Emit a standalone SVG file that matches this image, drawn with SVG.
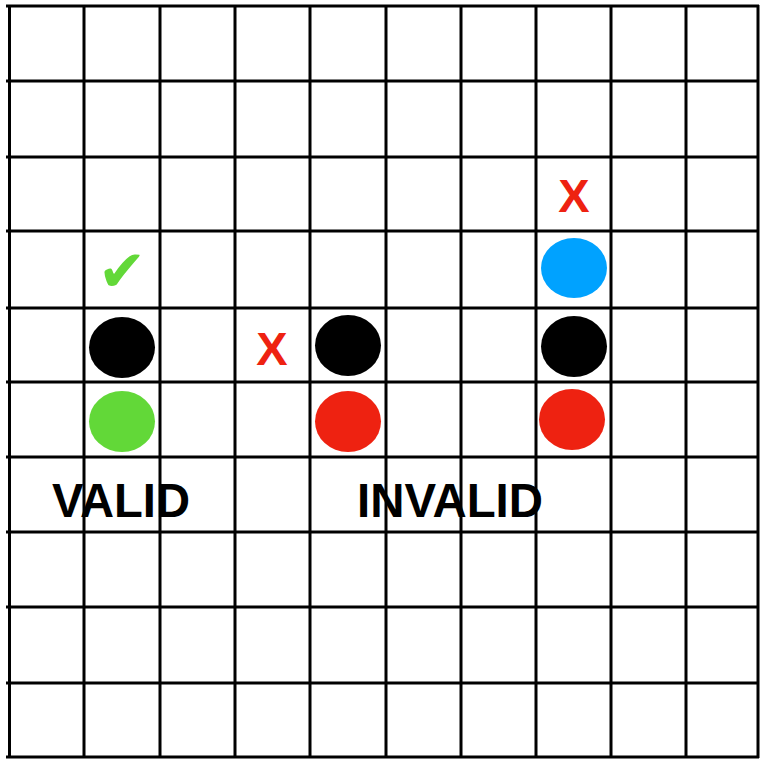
<svg xmlns="http://www.w3.org/2000/svg" width="762" height="762" viewBox="0 0 762 762">
<style>
.grid line{stroke:#000;stroke-width:3}
.lbl{font-family:"Liberation Sans",Arial,sans-serif;font-weight:bold;font-size:48px;fill:#000}
.x{font-family:"Liberation Sans",Arial,sans-serif;font-weight:bold;font-size:47px;fill:#EE2211;text-anchor:middle}
.blk{fill:#000}.red{fill:#EE2211}.grn{fill:#62D838}.blu{fill:#00A2FF}
</style>
<rect width="762" height="762" fill="#fff"/>
<g id="labels">
<text class="lbl" x="52" y="517" textLength="138" lengthAdjust="spacingAndGlyphs">VALID</text>
<text class="lbl" x="357" y="517" textLength="186" lengthAdjust="spacingAndGlyphs">INVALID</text>
</g>
<g class="grid" id="grid">
<line x1="6" y1="6" x2="759" y2="6"/>
<line x1="6" y1="81" x2="759" y2="81"/>
<line x1="6" y1="157" x2="759" y2="157"/>
<line x1="6" y1="231" x2="759" y2="231"/>
<line x1="6" y1="308" x2="759" y2="308"/>
<line x1="6" y1="382" x2="759" y2="382"/>
<line x1="6" y1="457" x2="759" y2="457"/>
<line x1="6" y1="532" x2="759" y2="532"/>
<line x1="6" y1="607" x2="759" y2="607"/>
<line x1="6" y1="683" x2="759" y2="683"/>
<line x1="6" y1="757" x2="759" y2="757"/>
<line x1="9.5" y1="5" x2="9.5" y2="758"/>
<line x1="84" y1="5" x2="84" y2="758"/>
<line x1="160" y1="5" x2="160" y2="758"/>
<line x1="235" y1="5" x2="235" y2="758"/>
<line x1="310" y1="5" x2="310" y2="758"/>
<line x1="386" y1="5" x2="386" y2="758"/>
<line x1="461" y1="5" x2="461" y2="758"/>
<line x1="536" y1="5" x2="536" y2="758"/>
<line x1="611" y1="5" x2="611" y2="758"/>
<line x1="686" y1="5" x2="686" y2="758"/>
<line x1="758" y1="5" x2="758" y2="758"/>
</g>
<g id="valid">
<text x="122" y="291" font-family="DejaVu Sans,sans-serif" font-size="58" fill="#62D838" text-anchor="middle">✔</text>
<ellipse class="blk" cx="122" cy="347.5" rx="33" ry="30.5"/>
<ellipse class="grn" cx="122" cy="421.5" rx="33" ry="30.5"/>
</g>
<g id="invalid1">
<text class="x" x="272" y="365">X</text>
<ellipse class="blk" cx="348" cy="345.5" rx="33" ry="30.5"/>
<ellipse class="red" cx="348" cy="421.5" rx="33" ry="30.5"/>
</g>
<g id="invalid2">
<text class="x" x="574" y="212">X</text>
<ellipse class="blu" cx="574" cy="268" rx="33" ry="30"/>
<ellipse class="blk" cx="574" cy="346.5" rx="33" ry="30.5"/>
<ellipse class="red" cx="572" cy="419.5" rx="33" ry="30.5"/>
</g>
</svg>
